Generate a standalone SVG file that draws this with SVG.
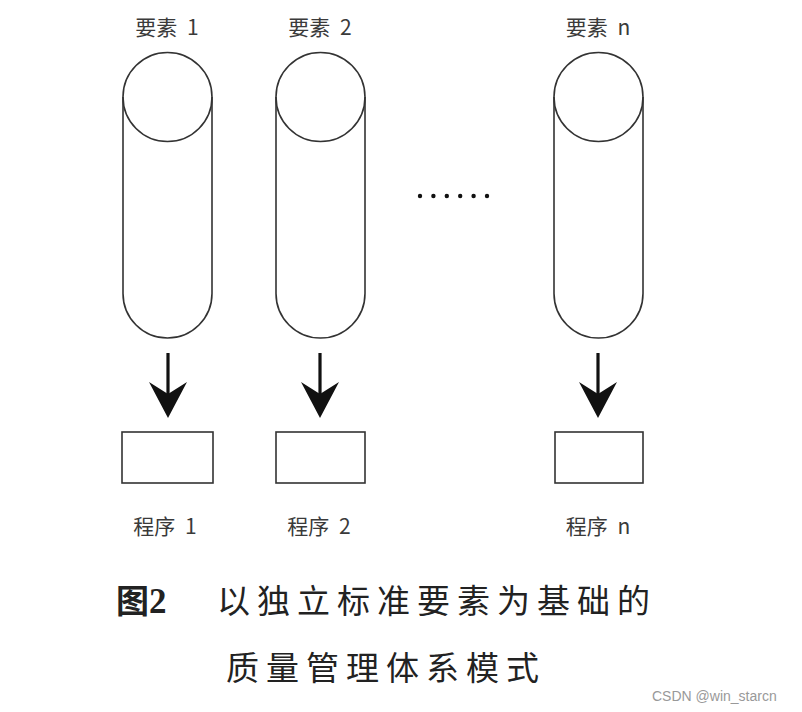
<svg xmlns="http://www.w3.org/2000/svg" width="802" height="712" viewBox="0 0 802 712">
<defs>
<style>
.shape{fill:none;stroke:#333;stroke-width:1.6}
.lbl{font-family:"Noto Sans CJK SC","Noto Sans",sans-serif;font-size:21px;fill:#3a3a3a;text-anchor:middle;word-spacing:5px}
.cap{font-family:"Noto Sans CJK SC",sans-serif;font-size:33px;fill:#222;letter-spacing:7px}
.shaft{stroke:#111;stroke-width:3.2}
.head{fill:#111}
</style>
</defs>
<rect width="802" height="712" fill="#fff"/>
<g id="element1">
<text class="lbl" x="167" y="35">要素 1</text>
<path class="shape" d="M123,97 V293.5 A44.5,44.5 0 0 0 212,293.5 V97"/>
<circle class="shape" cx="167.5" cy="97" r="44.5"/>
</g>
<g id="element2">
<text class="lbl" x="320" y="35">要素 2</text>
<path class="shape" d="M276,97 V293.5 A44.5,44.5 0 0 0 365,293.5 V97"/>
<circle class="shape" cx="320.5" cy="97" r="44.5"/>
</g>
<g id="elementn">
<text class="lbl" x="598" y="35">要素 n</text>
<path class="shape" d="M554,97 V293.5 A44.5,44.5 0 0 0 643,293.5 V97"/>
<circle class="shape" cx="598.5" cy="97" r="44.5"/>
</g>
<g id="dots" fill="#111">
<circle cx="420" cy="196" r="2.2"/>
<circle cx="433.4" cy="196" r="2.2"/>
<circle cx="446.8" cy="196" r="2.2"/>
<circle cx="460.2" cy="196" r="2.2"/>
<circle cx="473.6" cy="196" r="2.2"/>
<circle cx="487" cy="196" r="2.2"/>
</g>
<g id="connectors">
<line class="shaft" x1="168" y1="353" x2="168" y2="396"/>
<polygon class="head" points="149,382 168,394 187,382 168,418"/>
<line class="shaft" x1="320" y1="353" x2="320" y2="396"/>
<polygon class="head" points="301,382 320,394 339,382 320,418"/>
<line class="shaft" x1="598" y1="353" x2="598" y2="396"/>
<polygon class="head" points="579,382 598,394 617,382 598,418"/>
</g>
<g id="program1">
<rect class="shape" x="122" y="432" width="91" height="51"/>
<text class="lbl" x="165" y="534">程序 1</text>
</g>
<g id="program2">
<rect class="shape" x="276" y="432" width="89" height="51"/>
<text class="lbl" x="319" y="534">程序 2</text>
</g>
<g id="programn">
<rect class="shape" x="555" y="432" width="88" height="51"/>
<text class="lbl" x="598" y="534">程序 n</text>
</g>
<g id="caption">
<text x="116" y="613" style="font-family:'Noto Sans CJK SC',sans-serif;font-size:33px;font-weight:bold;fill:#222">图<tspan style="font-family:'Liberation Serif',serif;font-size:35px">2</tspan></text>
<text class="cap" x="217" y="613">以独立标准要素为基础的</text>
<text class="cap" x="226" y="680">质量管理体系模式</text>
</g>
<text x="652" y="701" style="font-family:'Liberation Sans',Arial,sans-serif;font-size:14px;fill:#999">CSDN @win_starcn</text>
</svg>
